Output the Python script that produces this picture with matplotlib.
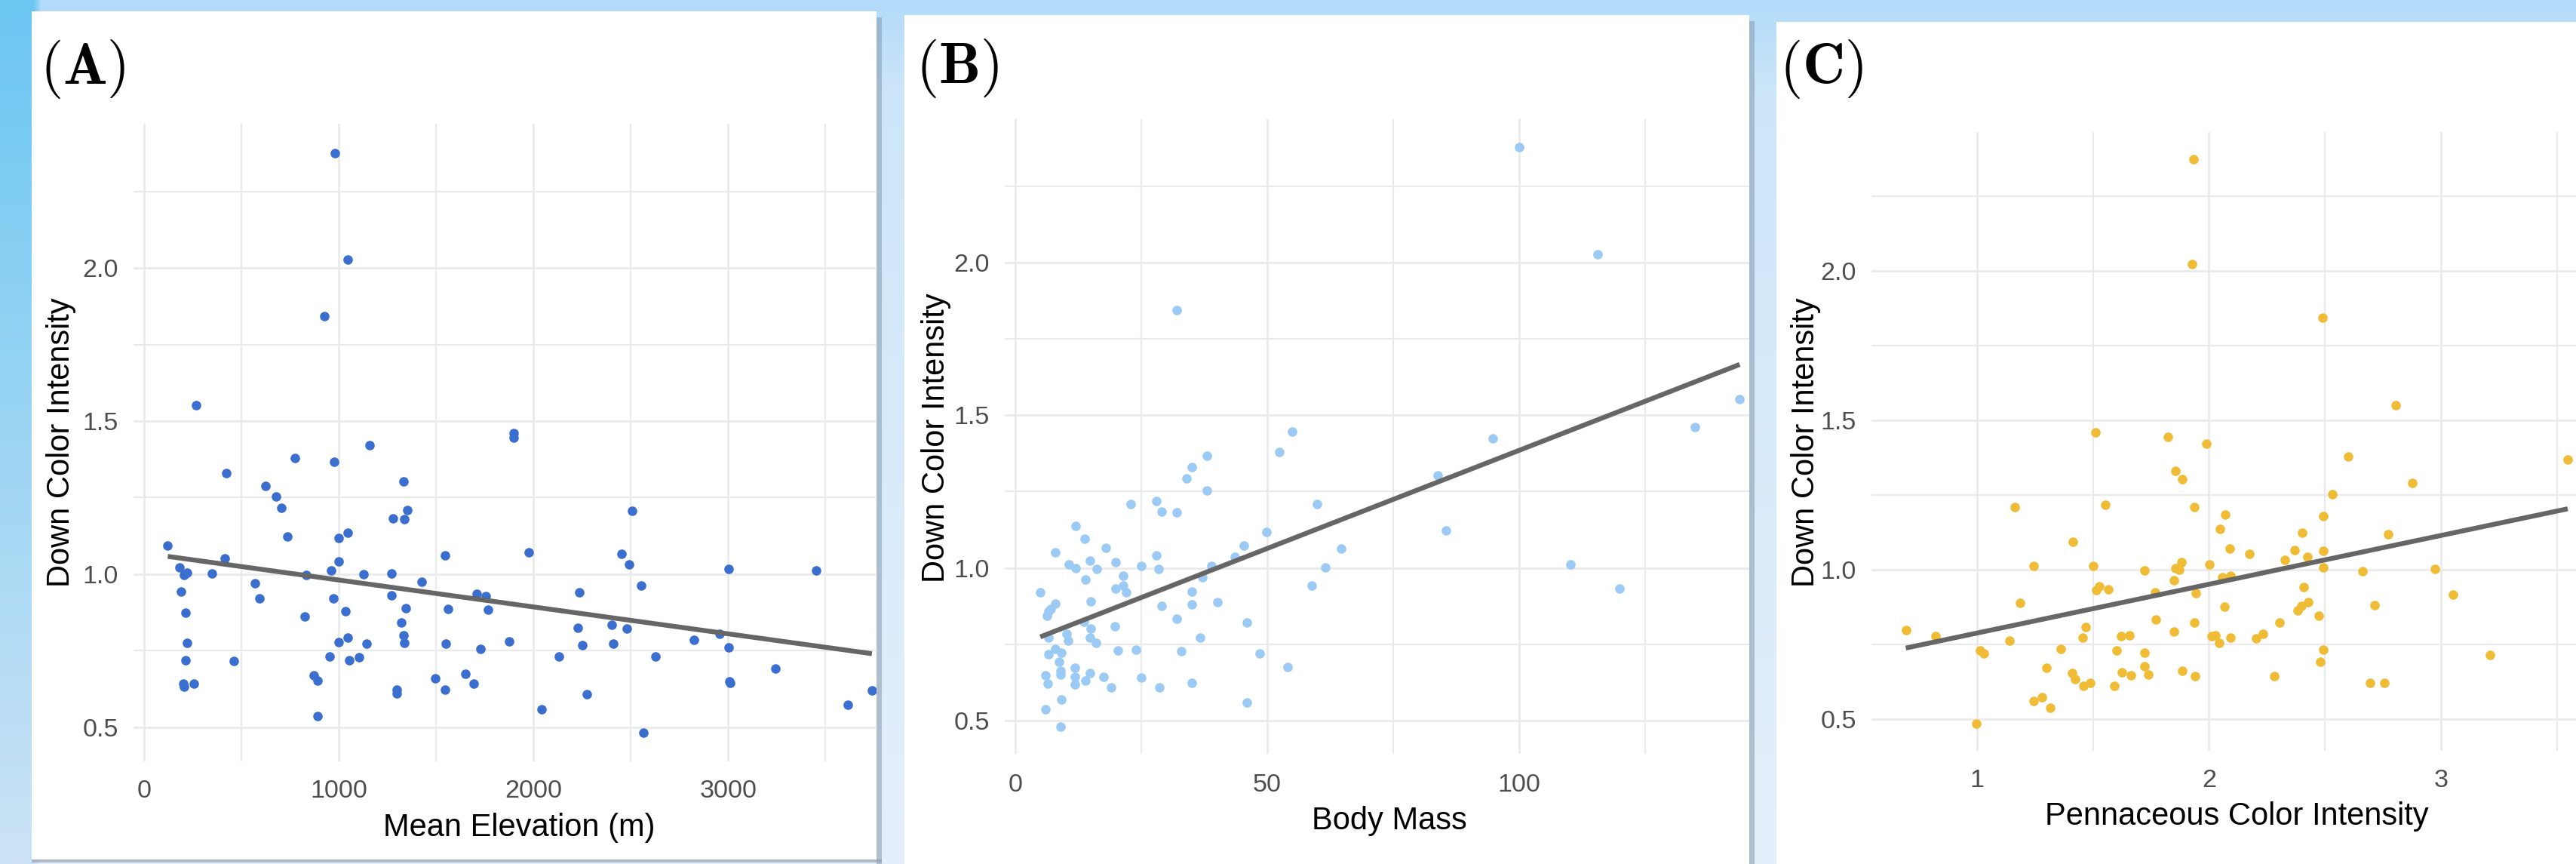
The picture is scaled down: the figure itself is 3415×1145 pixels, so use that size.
import numpy as np
import matplotlib
matplotlib.use("Agg")
import matplotlib.pyplot as plt
from matplotlib.patches import Rectangle

plt.rcParams['font.family'] = ['Liberation Sans', 'DejaVu Sans']

# ---------------- data ----------------
elev_x = [121, 181, 206, 221, 347, 414, 188, 570, 593, 211,
          219, 211, 459, 200, 206, 256, 623, 676, 706, 774,
          975, 1157, 1899, 1899, 1332, 1353, 1277, 1337, 2507, 737,
          1000, 1046, 1547, 1975, 2454, 2492, 999, 960, 834, 1127,
          1269, 1427, 2553, 2237, 1709, 1756, 1269, 972, 824, 1036,
          1343, 1561, 1765, 1321, 2227, 2403, 2479, 1332, 1337, 999,
          1046, 1141, 1551, 1727, 1875, 2252, 2409, 2825, 952, 1055,
          1105, 2133, 2627, 871, 892, 1494, 1651, 1695, 1547, 1299,
          1299, 2273, 2043, 892, 2564, 979, 1047, 926, 267, 421,
          3003, 3454, 2958, 3003, 3243, 3006, 3010, 3739, 3614]
elev_y = [1.093, 1.023, 0.997, 1.005, 1.002, 1.052, 0.943, 0.970, 0.920, 0.875,
          0.774, 0.719, 0.716, 0.641, 0.631, 0.641, 1.288, 1.253, 1.216, 1.380,
          1.367, 1.422, 1.461, 1.445, 1.302, 1.210, 1.183, 1.180, 1.208, 1.124,
          1.117, 1.136, 1.062, 1.071, 1.065, 1.032, 1.041, 1.011, 0.997, 1.000,
          1.002, 0.976, 0.963, 0.941, 0.935, 0.927, 0.931, 0.920, 0.862, 0.880,
          0.889, 0.887, 0.884, 0.843, 0.824, 0.834, 0.822, 0.800, 0.775, 0.778,
          0.793, 0.773, 0.772, 0.755, 0.780, 0.768, 0.772, 0.785, 0.731, 0.719,
          0.728, 0.732, 0.730, 0.670, 0.653, 0.660, 0.675, 0.643, 0.623, 0.622,
          0.609, 0.608, 0.559, 0.535, 0.481, 2.376, 2.027, 1.844, 1.552, 1.329,
          1.018, 1.011, 0.806, 0.761, 0.692, 0.649, 0.645, 0.620, 0.572]

mass_x = [52.4, 38.0, 35.0, 34.0, 38.0, 59.9, 23.0, 28.0, 29.0, 32.0,
          12.0, 13.8, 18.0, 8.0, 49.9, 45.3, 14.8, 20.0, 28.0, 10.6,
          12.0, 16.2, 25.0, 28.5, 43.6, 39.0, 64.7, 61.6, 21.5, 14.0,
          37.1, 5.0, 20.0, 21.5, 22.0, 58.9, 35.0, 8.0, 7.1, 6.7,
          6.4, 15.0, 29.0, 35.0, 40.1, 32.0, 46.0, 13.6, 19.8, 15.0,
          6.6, 10.2, 10.5, 14.9, 16.1, 36.7, 8.0, 9.1, 6.7, 20.4,
          24.0, 33.0, 48.5, 8.7, 9.0, 9.0, 11.8, 11.9, 11.9, 14.8,
          14.0, 17.5, 6.0, 6.5, 19.0, 25.0, 28.6, 35.0, 54.0, 46.0,
          9.1, 6.0, 9.0, 99.9, 115.6, 32.0, 143.7, 134.8, 94.8, 54.9,
          83.8, 85.4, 110.1, 119.8]
mass_y = [1.380, 1.368, 1.330, 1.292, 1.253, 1.210, 1.209, 1.218, 1.184, 1.181,
          1.137, 1.094, 1.065, 1.051, 1.118, 1.072, 1.024, 1.019, 1.041, 1.011,
          1.000, 0.997, 1.006, 0.997, 1.035, 1.006, 1.064, 1.002, 0.975, 0.963,
          0.969, 0.920, 0.931, 0.942, 0.920, 0.942, 0.922, 0.883, 0.866, 0.858,
          0.843, 0.890, 0.876, 0.879, 0.887, 0.833, 0.821, 0.823, 0.809, 0.800,
          0.772, 0.784, 0.761, 0.772, 0.755, 0.772, 0.735, 0.722, 0.716, 0.730,
          0.732, 0.728, 0.719, 0.693, 0.662, 0.650, 0.673, 0.644, 0.619, 0.655,
          0.631, 0.644, 0.648, 0.621, 0.608, 0.641, 0.608, 0.623, 0.674, 0.559,
          0.570, 0.536, 0.481, 2.377, 2.026, 1.844, 1.553, 1.460, 1.423, 1.446,
          1.303, 1.123, 1.010, 0.931]

penn_x = [1.510, 1.823, 1.990, 2.600, 1.855, 1.885, 2.531, 1.165, 1.555, 1.937,
          2.070, 2.494, 2.049, 2.401, 1.415, 2.090, 2.175, 2.371, 2.492, 2.425,
          2.326, 1.882, 2.002, 1.244, 1.502, 1.856, 1.872, 1.723, 2.492, 2.056,
          2.093, 1.849, 1.526, 1.515, 1.568, 1.769, 1.942, 2.409, 1.186, 2.068,
          2.427, 2.400, 2.384, 2.474, 1.771, 1.937, 2.303, 1.469, 1.456, 1.848,
          1.622, 1.657, 2.013, 2.028, 2.044, 2.092, 2.204, 2.233, 0.822, 1.140,
          1.015, 1.031, 1.361, 1.602, 1.722, 2.493, 2.481, 1.300, 1.412, 1.424,
          1.458, 1.490, 1.592, 1.626, 1.665, 1.722, 1.740, 1.884, 1.940, 2.283,
          1.246, 1.280, 1.316, 0.998, 1.935, 1.927, 2.491, 2.804, 2.878, 3.546,
          2.774, 2.662, 2.974, 3.053, 2.714, 3.211, 2.695, 2.756, 0.694]
penn_y = [1.460, 1.444, 1.422, 1.380, 1.330, 1.302, 1.253, 1.210, 1.218, 1.209,
          1.184, 1.180, 1.136, 1.125, 1.094, 1.072, 1.052, 1.065, 1.063, 1.042,
          1.034, 1.026, 1.019, 1.012, 1.012, 1.004, 1.000, 0.997, 1.007, 0.976,
          0.981, 0.964, 0.944, 0.933, 0.934, 0.924, 0.922, 0.942, 0.888, 0.876,
          0.891, 0.878, 0.864, 0.845, 0.834, 0.823, 0.824, 0.809, 0.773, 0.794,
          0.777, 0.780, 0.777, 0.780, 0.755, 0.774, 0.770, 0.785, 0.777, 0.762,
          0.731, 0.720, 0.734, 0.731, 0.722, 0.733, 0.693, 0.671, 0.653, 0.634,
          0.610, 0.621, 0.610, 0.657, 0.646, 0.678, 0.649, 0.662, 0.643, 0.645,
          0.561, 0.573, 0.538, 0.485, 2.373, 2.024, 1.843, 1.551, 1.290, 1.368,
          1.118, 0.996, 1.002, 0.918, 0.882, 0.715, 0.621, 0.621, 0.798]

# fitted trend lines (end points)
trend_elev_x = [121, 3739]
trend_elev_y = [1.058, 0.740]
trend_mass_x = [5.0, 143.7]
trend_mass_y = [0.774, 1.666]
trend_penn_x = [0.694, 3.546]
trend_penn_y = [0.738, 1.204]

y_ticks = [0.5, 1.0, 1.5, 2.0]
y_minor = [0.75, 1.25, 1.75, 2.25]
y_label = "Down Color Intensity"

panels = [
    dict(tag="A", x=elev_x, y=elev_y, tx=trend_elev_x, ty=trend_elev_y,
         color="#3A6ECF", xlabel="Mean Elevation (m)",
         xticks=[0, 1000, 2000, 3000], xminor=[500, 1500, 2500, 3500],
         xticklabels=["0", "1000", "2000", "3000"],
         xlim=(-55, 3759), ylim=(0.388, 2.472),
         rect=(177, 164, 1161, 1009), box=(42, 15, 1162, 1139),
         tagpos=(53, 111), ylabpos=(92, 586), xlabpos=(688, 1108), xpad=17),
    dict(tag="B", x=mass_x, y=mass_y, tx=trend_mass_x, ty=trend_mass_y,
         color="#9BCAF4", xlabel="Body Mass",
         xticks=[0, 50, 100], xminor=[25, 75, 125],
         xticklabels=["0", "50", "100"],
         xlim=(-2.05, 145.6), ylim=(0.391, 2.469),
         rect=(1332, 158, 2319, 999), box=(1199, 20, 2319, 1145),
         tagpos=(1214, 110), ylabpos=(1252, 580), xlabpos=(1842, 1099), xpad=19),
    dict(tag="C", x=penn_x, y=penn_y, tx=trend_penn_x, ty=trend_penn_y,
         color="#F0BC36", xlabel="Pennaceous Color Intensity",
         xticks=[1, 2, 3], xminor=[1.5, 2.5, 3.5],
         xticklabels=["1", "2", "3"],
         xlim=(0.546, 3.585), ylim=(0.394, 2.465),
         rect=(2481, 175, 3416, 995), box=(2355, 29, 3416, 1145),
         tagpos=(2359, 111), ylabpos=(2405, 586), xlabpos=(2965, 1093), xpad=17),
]

# ---------------- figure ----------------
W, H = 3416, 1145
fig = plt.figure(figsize=(W / 100, H / 100), dpi=100)


def frac(x0, y0, x1, y1):
    return [x0 / W, 1 - y1 / H, (x1 - x0) / W, (y1 - y0) / H]


# background layer in pixel coordinates
bg = fig.add_axes([0, 0, 1, 1], zorder=-10)
bg.set_xlim(0, W)
bg.set_ylim(H, 0)
bg.axis("off")

rows, cols = 115, 342
t = np.linspace(0, 1, rows)[:, None]
top = np.array([0.70, 0.86, 0.98])
mid = np.array([0.80, 0.90, 0.975])
bot = np.array([0.90, 0.94, 0.985])
col = np.where(t < 0.1, top + (mid - top) * (t / 0.1),
               mid + (bot - mid) * ((t - 0.1) / 0.9))
img = np.repeat(col[:, None, :], cols, axis=1).reshape(rows, cols, 3)
lt = np.array([0.42, 0.78, 0.95])
lb = np.array([0.80, 0.89, 0.96])
left = lt + (lb - lt) * t
img[:, :5, :] = left[:, None, :]
bg.imshow(img, extent=(0, W, H, 0), aspect="auto", interpolation="bilinear")

for p in panels:
    x0, y0, x1, y1 = p["box"]
    bg.add_patch(Rectangle((x1, y0 + 8), 7, y1 - y0, facecolor=(0.52, 0.60, 0.68),
                           alpha=0.55, lw=0))
    bg.add_patch(Rectangle((x0, y0), x1 - x0, y1 - y0, facecolor="white", lw=0))
bg.add_patch(Rectangle((42, 1139), 1127, 4, facecolor=(0.55, 0.60, 0.66), alpha=0.6, lw=0))

grid_col = "#EAEAEA"
for p in panels:
    ax = fig.add_axes(frac(*p["rect"]))
    ax.set_facecolor("white")
    ax.set_axisbelow(True)
    ax.set_xlim(*p["xlim"])
    ax.set_ylim(*p["ylim"])
    ax.set_xticks(p["xticks"])
    ax.set_xticklabels(p["xticklabels"])
    ax.set_xticks(p["xminor"], minor=True)
    ax.set_yticks(y_ticks)
    ax.set_yticklabels([f"{v:.1f}" for v in y_ticks])
    ax.set_yticks(y_minor, minor=True)
    ax.grid(which="major", color=grid_col, lw=1.9)
    ax.grid(which="minor", color=grid_col, lw=1.6)
    for s in ax.spines.values():
        s.set_visible(False)
    ax.tick_params(which="both", length=0, labelsize=24.5, labelcolor="#4D4D4D")
    ax.tick_params(axis="x", pad=p["xpad"])
    ax.tick_params(axis="y", pad=14.4)

    ax.scatter(p["x"], p["y"], s=82, color=p["color"], linewidths=0, zorder=3)
    ax.plot(p["tx"], p["ty"], color="#666666", lw=4.6, solid_capstyle="butt", zorder=4)

    tx, ty = p["tagpos"]
    bg.text(tx, ty, r"$(\mathbf{%s})$" % p["tag"], fontsize=56, math_fontfamily="cm",
            ha="left", va="baseline", color="black")
    lx, ly = p["ylabpos"]
    bg.text(lx, ly, y_label, rotation=90, rotation_mode="anchor", ha="center",
            va="baseline", fontsize=30, color="black")
    xx, xy = p["xlabpos"]
    bg.text(xx, xy, p["xlabel"], ha="center", va="baseline", fontsize=30, color="black")

fig.savefig("out.png", dpi=100)
